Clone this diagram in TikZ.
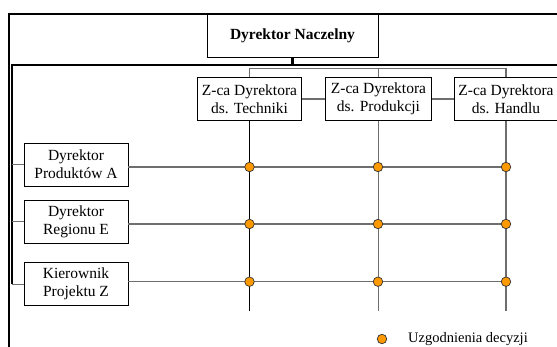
\documentclass[tikz,border=0pt]{standalone}
\usepackage{fontspec}
\setmainfont{Liberation Serif}
\definecolor{dotorange}{HTML}{FF9900}
\definecolor{linegrey}{HTML}{6E6E6E}
\begin{document}
\begin{tikzpicture}[x=1pt,y=-1pt,
  box/.style={draw=black, line width=0.9pt, fill=white, minimum width=104pt, minimum height=43pt, align=center, inner sep=0pt, font=\fontsize{15.5}{18}\selectfont},
  heavyline/.style={line width=2.2pt, black},
  innerline/.style={line width=2pt, black},
  thinline/.style={line width=1.1pt, linegrey},
  darkline/.style={line width=1.1pt, black},
  dot/.style={circle, draw=black!80, fill=dotorange, line width=0.7pt, minimum size=9.5pt, inner sep=0pt}
]
\useasboundingbox (0,0) rectangle (557,347);
% outer frame
\draw[heavyline] (9,350) -- (9,14) -- (560,14);
% top box
\node[box, minimum width=171pt, font=\fontsize{15.5}{18}\selectfont\bfseries] (nacz) at (292.5,35.5) {Dyrektor Naczelny};
% deputy boxes
\node[box] (z1) at (249.5,99) {Z-ca Dyrektora\\ds. Techniki};
\node[box, minimum width=106pt] (z2) at (378.5,99) {Z-ca Dyrektora\\ds. Produkcji};
\node[box] (z3) at (506,99) {Z-ca Dyrektora\\ds. Handlu};
% left boxes
\node[box] (ba) at (76,164.7) {Dyrektor\\Produktów A};
\node[box] (be) at (76,221.8) {Dyrektor\\Regionu E};
\node[box] (bz) at (76,284.2) {Kierownik\\Projektu Z};
% coordinates
\coordinate (hub) at (292.5,65.5);
\coordinate (corner) at (11.7,65.5);
\coordinate (rightend) at (560,65.5);
\coordinate (tline) at (0,68.8);
\coordinate (bottomend) at (0,311);
\coordinate (p11) at (249.5,167);
\coordinate (p12) at (378,167);
\coordinate (p13) at (506,167);
\coordinate (p21) at (249.5,224);
\coordinate (p22) at (378,224);
\coordinate (p23) at (506,224);
\coordinate (p31) at (249.5,281.7);
\coordinate (p32) at (378,281.7);
\coordinate (p33) at (506,281.7);
% main connectors
\draw[heavyline] (nacz.south) -- (hub);
\draw[innerline] (rightend) -- (corner) -- (corner |- bz.west);
\draw[thinline] (corner |- ba.west) -- (ba.west);
\draw[thinline] (corner |- be.west) -- (be.west);
\draw[thinline] (corner |- bz.west) -- (bz.west);
\draw[thinline] (z1.north) -- (z1.north |- tline) -- (z3.north |- tline) -- (z3.north);
\draw[thinline] (z2.north) -- (z2.north |- tline);
\draw[thinline] (z1.east) -- (z2.west);
\draw[thinline] (z2.east) -- (z3.west);
% grid
\draw[darkline] (z1.south) -- (z1.south |- bottomend);
\draw[thinline] (z2.south) -- (z2.south |- bottomend);
\draw[thinline] (z3.south) -- (z3.south |- bottomend);
\draw[thinline] (ba.east |- p11) -- (p11) -- (p12) -- (p13);
\draw[thinline] (be.east |- p21) -- (p21) -- (p22) -- (p23);
\draw[thinline] (bz.east |- p31) -- (p31) -- (p32) -- (p33);
% dots
\foreach \p in {p11,p12,p13,p21,p22,p23,p31,p32,p33}
  \node[dot] (d\p) at (\p) {};
% legend
\node[dot] (legdot) at (382,339) {};
\node[anchor=west, inner sep=0pt, font=\fontsize{14.5}{17}\selectfont] (legtxt) at (408,339) {Uzgodnienia decyzji};
\end{tikzpicture}
\end{document}
